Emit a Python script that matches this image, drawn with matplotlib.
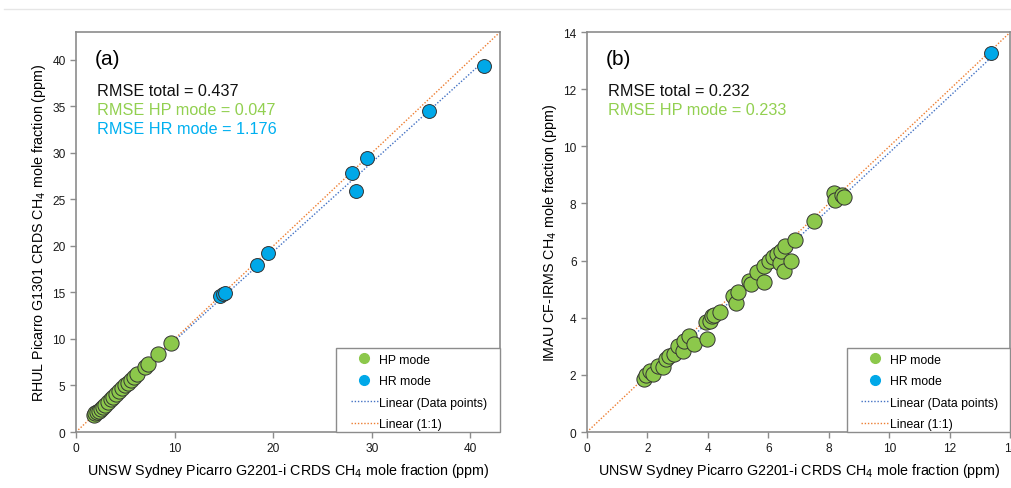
import matplotlib
matplotlib.use("Agg")
import matplotlib.pyplot as plt
from matplotlib.lines import Line2D
from matplotlib.patches import Rectangle
import numpy as np

plt.rcParams["font.family"] = ["Liberation Sans", "DejaVu Sans"]

GREEN = "#8cc84b"
BLUE = "#00a8e8"
TXT_GREEN = "#92d050"
TXT_BLUE = "#00b0f0"
FIT = "#4472c4"
ONE = "#ed7d31"
SPINE = "#8c8c8c"

# ---- panel (a): UNSW vs RHUL ------------------------------------
a_hp_x = [1.8, 1.95, 2.1, 2.3, 2.5, 2.7, 2.95, 3.2, 3.5, 3.8,
          4.1, 4.4, 4.7, 5.0, 5.3, 5.6, 5.9, 6.2, 7.0, 7.3, 8.3, 9.65]
a_hp_y = [1.85, 2.0, 2.1, 2.3, 2.5, 2.7, 2.95, 3.2, 3.5, 3.8,
          4.1, 4.4, 4.7, 5.0, 5.3, 5.6, 5.9, 6.2, 6.95, 7.3, 8.4, 9.55]
a_hr_x = [14.6, 14.9, 15.1, 18.4, 19.5, 28.0, 28.4, 29.5, 35.8, 41.4]
a_hr_y = [14.6, 14.8, 14.9, 18.0, 19.2, 27.8, 25.9, 29.5, 34.5, 39.3]
a_rmse = ["RMSE total = 0.437", "RMSE HP mode = 0.047", "RMSE HR mode = 1.176"]

# ---- panel (b): UNSW vs IMAU ------------------------------------
b_hp_x = [1.9, 1.96, 2.1, 2.17, 2.34, 2.5, 2.61, 2.72, 2.89, 3.02, 3.16, 3.21,
          3.38, 3.54, 3.92, 3.96, 4.08, 4.14, 4.2, 4.39, 4.82, 4.93, 4.99,
          5.37, 5.42, 5.62, 5.86, 5.86, 6.02, 6.16, 6.27, 6.38, 6.40, 6.52,
          6.55, 6.76, 6.87, 7.5, 8.15, 8.19, 8.44, 8.5]
b_hp_y = [1.86, 2.0, 2.15, 2.03, 2.32, 2.26, 2.56, 2.67, 2.73, 3.02, 2.85, 3.2,
          3.37, 3.08, 3.84, 3.26, 3.9, 4.07, 4.1, 4.19, 4.77, 4.5, 4.91,
          5.3, 5.18, 5.59, 5.82, 5.24, 6.0, 6.11, 6.23, 5.92, 6.32, 5.65,
          6.52, 6.0, 6.73, 7.4, 8.37, 8.12, 8.31, 8.21]
b_hr_x = [13.36]
b_hr_y = [13.25]
b_rmse = ["RMSE total = 0.232", "RMSE HP mode = 0.233"]

XLABEL = "UNSW Sydney Picarro G2201-i CRDS CH$_4$ mole fraction (ppm)"
DOT = (0, (1, 1.3))


def draw_panel(ax, hp_x, hp_y, hr_x, hr_y, lim, xticks, yticks, ylabel,
               tag, rmse, rmse_colors):
    ax.plot([0, lim], [0, lim], ls=DOT, color=ONE, lw=1.0, zorder=1)
    x_all = np.array(hp_x + hr_x)
    y_all = np.array(hp_y + hr_y)
    k, b = np.polyfit(x_all, y_all, 1)
    xs = np.array([x_all.min(), x_all.max()])
    ax.plot(xs, k * xs + b, ls=DOT, color=FIT, lw=1.0, zorder=1)
    ax.scatter(hp_x, hp_y, s=120, color=GREEN, edgecolor="#333333",
               linewidth=0.7, zorder=3)
    ax.scatter(hr_x, hr_y, s=100, color=BLUE, edgecolor="#333333",
               linewidth=0.7, zorder=3)
    ax.set_xlim(0, lim)
    ax.set_ylim(0, lim)
    ax.set_xticks(xticks)
    ax.set_yticks(yticks)
    ax.tick_params(direction="out", length=4, width=1, color=SPINE,
                   labelsize=8.6, labelcolor="#1a1a1a")
    for s in ax.spines.values():
        s.set_color(SPINE)
        s.set_linewidth(1.2)
    ax.set_xlabel(XLABEL, fontsize=10.25, labelpad=5)
    ax.set_ylabel(ylabel, fontsize=10.25, labelpad=3)
    ax.text(0.045, 0.935, tag, transform=ax.transAxes, fontsize=15,
            va="center", ha="left")
    for i, (t, c) in enumerate(zip(rmse, rmse_colors)):
        ax.text(0.05, 0.853 - i * 0.0475, t, transform=ax.transAxes,
                fontsize=11.7, color=c, va="center", ha="left")

    # legend box (Excel style: flush with the lower-right corner)
    ax.add_patch(Rectangle((0.613, 0.0), 0.387, 0.21, transform=ax.transAxes,
                           facecolor="white", edgecolor=SPINE, lw=1.0,
                           zorder=4, clip_on=False))
    handles = [
        Line2D([], [], ls="none", marker="o", ms=7, color=GREEN),
        Line2D([], [], ls="none", marker="o", ms=7, color=BLUE),
        Line2D([], [], ls=DOT, color=FIT, lw=1.0),
        Line2D([], [], ls=DOT, color=ONE, lw=1.0),
    ]
    labels = ["HP mode", "HR mode", "Linear (Data points)", "Linear (1:1)"]
    leg = ax.legend(handles, labels, loc="upper left",
                    bbox_to_anchor=(0.648, 0.196), fontsize=8.8,
                    frameon=False, borderaxespad=0, borderpad=0,
                    handlelength=2.2, handletextpad=0.1, labelspacing=0.78)
    leg.set_zorder(5)


fig = plt.figure(figsize=(10.12, 4.89), dpi=100)
fig.add_artist(Line2D([0.004, 1.0], [0.979, 0.979], color="#e6e6e6", lw=1.0))

ax1 = fig.add_axes([0.0751, 0.1145, 0.419, 0.818])
draw_panel(ax1, a_hp_x, a_hp_y, a_hr_x, a_hr_y, 43,
           [0, 10, 20, 30, 40], [0, 5, 10, 15, 20, 25, 30, 35, 40],
           "RHUL Picarro G1301 CRDS CH$_4$ mole fraction (ppm)", "(a)",
           a_rmse, ["#111111", TXT_GREEN, TXT_BLUE])

ax2 = fig.add_axes([0.580, 0.1145, 0.4185, 0.818])
draw_panel(ax2, b_hp_x, b_hp_y, b_hr_x, b_hr_y, 14,
           [0, 2, 4, 6, 8, 10, 12, 14], [0, 2, 4, 6, 8, 10, 12, 14],
           "IMAU CF-IRMS CH$_4$ mole fraction (ppm)", "(b)",
           b_rmse, ["#111111", TXT_GREEN])

fig.savefig("out.png", dpi=100)
